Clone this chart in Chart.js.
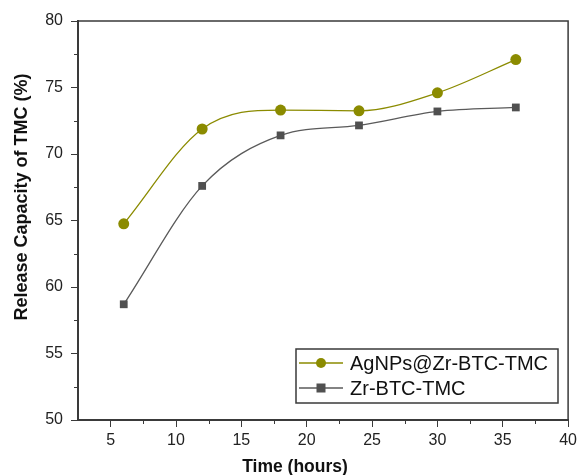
<!DOCTYPE html>
<html>
<head>
<meta charset="utf-8">
<script src="https://cdn.jsdelivr.net/npm/chart.js@4"></script>
<style>
  html, body { margin: 0; padding: 0; background: #fff; }
  #wrap { width: 581px; height: 475px; position: relative; }
</style>
</head>
<body>
<div id="wrap"><canvas id="chart"></canvas></div>
<script>
const hours = [6, 12, 18, 24, 30, 36];
const agValues = [64.75, 71.88, 73.3, 73.25, 74.6, 77.1];
const zrValues = [58.7, 67.6, 71.4, 72.15, 73.2, 73.5];
const xTicks = [5, 10, 15, 20, 25, 30, 35, 40];
const yTicks = [50, 55, 60, 65, 70, 75, 80];
const xTitle = "Time (hours)";
const yTitle = "Release Capacity of TMC (%)";

const axisColor = "#3a3a3a";
const olive = "#8b8b00";
const grey = "#505050";

// frame on top/right, the short minor ticks and the axis titles
const framePlugin = {
  id: "frame",
  afterDraw(chart) {
    const { ctx, chartArea: a, scales: { x, y } } = chart;
    ctx.save();
    ctx.strokeStyle = axisColor;
    ctx.lineWidth = 1.5;
    ctx.beginPath();
    ctx.moveTo(a.left, a.top);
    ctx.lineTo(a.right, a.top);
    ctx.lineTo(a.right, a.bottom);
    ctx.stroke();
    ctx.lineWidth = 1;
    ctx.beginPath();
    for (let i = 0; i < xTicks.length - 1; i++) {
      const px = Math.round(x.getPixelForValue(xTicks[i] + 2.5)) + 0.5;
      ctx.moveTo(px, a.bottom);
      ctx.lineTo(px, a.bottom + 4);
    }
    for (let i = 0; i < yTicks.length - 1; i++) {
      const py = Math.round(y.getPixelForValue(yTicks[i] + 2.5)) + 0.5;
      ctx.moveTo(a.left, py);
      ctx.lineTo(a.left - 4, py);
    }
    ctx.stroke();

    ctx.fillStyle = "#111";
    ctx.textAlign = "center";
    ctx.textBaseline = "middle";
    ctx.font = "bold 17.5px 'Liberation Sans', Arial";
    ctx.fillText(xTitle, 295, 467);
    ctx.translate(22, 197);
    ctx.rotate(-Math.PI / 2);
    ctx.font = "bold 18px 'Liberation Sans', Arial";
    ctx.fillText(yTitle, 0, 0);
    ctx.restore();
  }
};

new Chart(document.getElementById("chart"), {
  type: "line",
  data: {
    datasets: [
      {
        label: "AgNPs@Zr-BTC-TMC",
        data: hours.map((h, i) => ({ x: h, y: agValues[i] })),
        borderColor: olive,
        backgroundColor: olive,
        borderWidth: 1.3,
        pointStyle: "circle",
        pointRadius: 5.5,
        pointBorderWidth: 0,
        cubicInterpolationMode: "monotone"
      },
      {
        label: "Zr-BTC-TMC",
        data: hours.map((h, i) => ({ x: h, y: zrValues[i] })),
        borderColor: "#5a5a5a",
        backgroundColor: grey,
        borderWidth: 1.3,
        pointStyle: "rect",
        pointRadius: 5.5,
        pointBorderWidth: 0,
        cubicInterpolationMode: "monotone"
      }
    ]
  },
  options: {
    responsive: true,
    maintainAspectRatio: false,
    animation: false,
    layout: { padding: { left: 0, top: 21, right: 9, bottom: 0 } },
    plugins: {
      tooltip: { enabled: false },
      legend: { display: false }
    },
    scales: {
      x: {
        type: "linear",
        min: 2.5,
        max: 40,
        afterBuildTicks: s => { s.ticks = xTicks.map(v => ({ value: v })); },
        afterFit: s => { s.height = 55; },
        border: { color: axisColor, width: 2 },
        grid: { drawOnChartArea: false, tickLength: 7, tickColor: axisColor, tickWidth: 1 },
        ticks: { color: "#222", padding: 4, maxRotation: 0, font: { family: "Liberation Sans, Arial", size: 16 } }
      },
      y: {
        min: 50,
        max: 80,
        afterBuildTicks: s => { s.ticks = yTicks.map(v => ({ value: v })); },
        afterFit: s => { s.width = 78; },
        border: { color: axisColor, width: 2 },
        grid: { drawOnChartArea: false, tickLength: 7, tickColor: axisColor, tickWidth: 1 },
        ticks: { color: "#222", padding: 8, font: { family: "Liberation Sans, Arial", size: 16 } }
      }
    }
  },
  plugins: [framePlugin, {
    id: "boxLegend",
    afterDraw(chart) {
      const { ctx } = chart;
      const bx = 296, by = 349, bw = 262, bh = 54;
      ctx.save();
      ctx.strokeStyle = axisColor;
      ctx.lineWidth = 1.5;
      ctx.strokeRect(bx, by, bw, bh);
      ctx.font = "20px 'Liberation Sans', Arial";
      ctx.textBaseline = "middle";
      chart.data.datasets.forEach((ds, i) => {
        const cy = by + 14 + i * 25;
        ctx.strokeStyle = ds.borderColor;
        ctx.lineWidth = 1.3;
        ctx.beginPath();
        ctx.moveTo(bx + 3, cy);
        ctx.lineTo(bx + 47, cy);
        ctx.stroke();
        ctx.fillStyle = ds.backgroundColor;
        if (ds.pointStyle === "circle") {
          ctx.beginPath();
          ctx.arc(bx + 25, cy, 5, 0, Math.PI * 2);
          ctx.fill();
        } else {
          ctx.fillRect(bx + 20.5, cy - 4.5, 9, 9);
        }
        ctx.fillStyle = "#111";
        ctx.fillText(ds.label, bx + 54, cy + 1);
      });
      ctx.restore();
    }
  }]
});
</script>
</body>
</html>
